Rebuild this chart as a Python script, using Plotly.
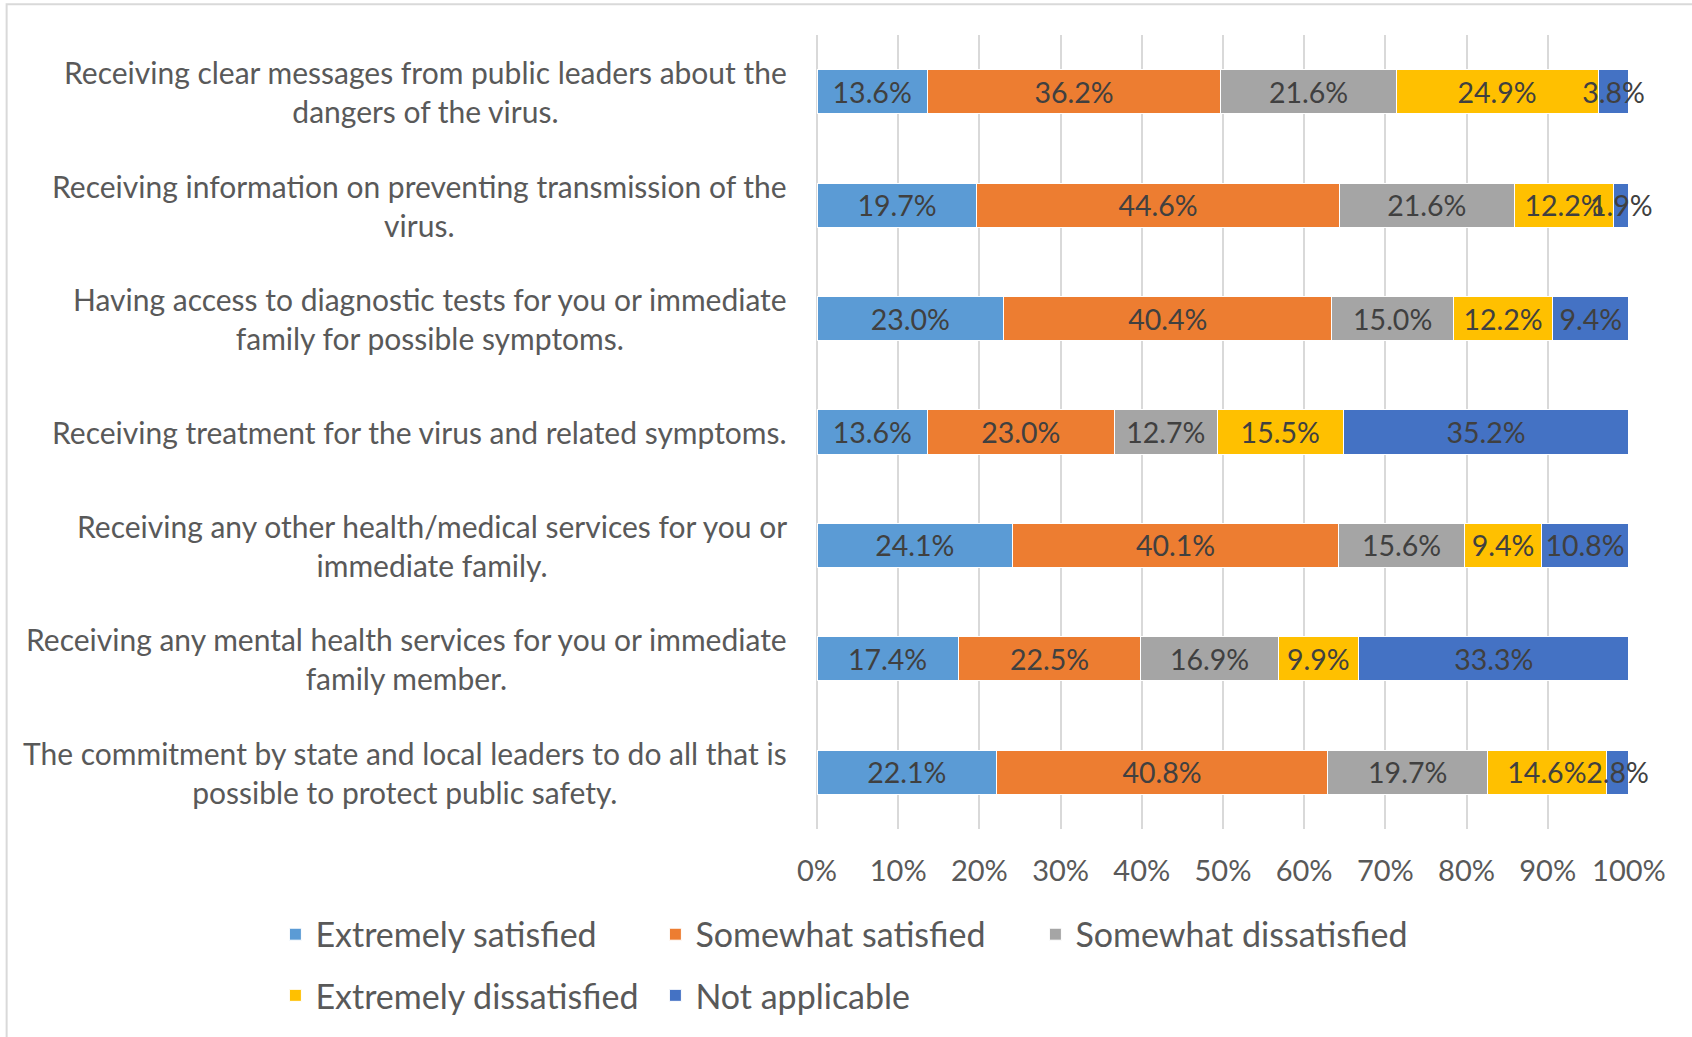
import plotly.graph_objects as go

items = [
    "Receiving clear messages from public leaders about the<br>dangers of the virus.",
    "Receiving information on preventing transmission of the<br>virus.",
    "Having access to diagnostic tests for you or immediate<br>family for possible symptoms.",
    "Receiving treatment for the virus and related symptoms.",
    "Receiving any other health/medical services for you or<br>immediate family.",
    "Receiving any mental health services for you or immediate<br>family member.",
    "The commitment by state and local leaders to do all that is<br>possible to protect public safety.",
]

extremely_satisfied = [13.6, 19.7, 23.0, 13.6, 24.1, 17.4, 22.1]
somewhat_satisfied = [36.2, 44.6, 40.4, 23.0, 40.1, 22.5, 40.8]
somewhat_dissatisfied = [21.6, 21.6, 15.0, 12.7, 15.6, 16.9, 19.7]
extremely_dissatisfied = [24.9, 12.2, 12.2, 15.5, 9.4, 9.9, 14.6]
not_applicable = [3.8, 1.9, 9.4, 35.2, 10.8, 33.3, 2.8]

x_ticks = [0, 10, 20, 30, 40, 50, 60, 70, 80, 90, 100]

# (name, values, colour, legend row)
series = [
    ("Extremely satisfied", extremely_satisfied, "#5B9BD5", "legend"),
    ("Somewhat satisfied", somewhat_satisfied, "#ED7D31", "legend"),
    ("Somewhat dissatisfied", somewhat_dissatisfied, "#A5A5A5", "legend"),
    ("Extremely dissatisfied", extremely_dissatisfied, "#FFC000", "legend2"),
    ("Not applicable", not_applicable, "#4472C4", "legend2"),
]

FONT = "Lato"

fig = go.Figure()
for name, vals, col, leg in series:
    fig.add_trace(go.Bar(
        y=items, x=vals, name=name, orientation="h", legend=leg,
        marker=dict(color=col, line=dict(color="white", width=1)),
        text=[f"{v:.1f}%" for v in vals],
        textposition="inside", insidetextanchor="middle", textangle=0,
        textfont=dict(family=FONT, size=28.5, color="#404040"),
        constraintext="none", cliponaxis=False,
    ))

# category labels as centred multi-line blocks
for it in items:
    fig.add_annotation(
        x=-0.034, xref="paper", y=it, yref="y",
        text=it, showarrow=False, xanchor="right", align="center",
        font=dict(family=FONT, size=30, color="#595959"),
    )

# light frame round the chart (left and top edges visible)
fig.add_shape(type="rect", xref="paper", yref="paper",
              x0=-0.998, x1=1.1, y0=-0.3, y1=1.0386,
              line=dict(color="#D9D9D9", width=2), fillcolor="rgba(0,0,0,0)",
              layer="below")

leg_style = dict(
    orientation="h", x=-0.667, xanchor="left", yanchor="middle",
    font=dict(family=FONT, size=34, color="#595959"),
    entrywidth=335, entrywidthmode="pixels",
    traceorder="normal", itemclick=False,
)

fig.update_layout(
    barmode="stack",
    barnorm="percent",
    bargap=0.61,
    width=1692, height=1037,
    margin=dict(l=817, r=63, t=35, b=206),
    paper_bgcolor="white", plot_bgcolor="white",
    font=dict(family=FONT, color="#595959"),
    uniformtext=dict(minsize=28, mode="show"),
    legend=dict(y=-0.133, **leg_style),
    legend2=dict(y=-0.21, **leg_style),
    showlegend=True,
)

# range a hair past 100 so the last label isn't dropped by rounding
fig.update_xaxes(
    range=[0, 100.01], tickvals=x_ticks, ticktext=[f"{t}%" for t in x_ticks],
    showgrid=True, gridcolor="#D9D9D9", gridwidth=1.5,
    zeroline=True, zerolinecolor="#D9D9D9", zerolinewidth=1.5,
    showline=False, ticks="", ticklabelstandoff=22,
    tickfont=dict(family=FONT, size=29, color="#595959"),
)
fig.update_yaxes(
    categoryorder="array", categoryarray=items, autorange="reversed",
    showticklabels=False, showgrid=False, zeroline=False, showline=False,
)

# drop the default page margin so the figure sits at the window corner
fig.write_html("out.html", config={"displayModeBar": False},
               post_script="document.body.style.margin='0';")
